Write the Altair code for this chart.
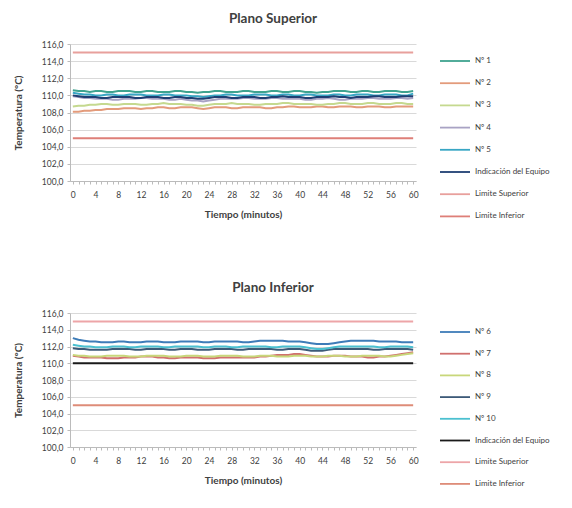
import altair as alt
import pandas as pd

MINUTES = list(range(61))
Y_TICKS = [100, 102, 104, 106, 108, 110, 112, 114, 116]

# ---------------- Plano Superior ----------------
TOP_NAMES = ["Nº 1", "Nº 2", "Nº 3", "Nº 4", "Nº 5", "Indicación del Equipo",
             "Limite Superior", "Limite Inferior"]
TOP_COLORS = ["#3FA38F", "#E39B7B", "#C5D98F", "#A9A3C4", "#38A6C4", "#1F3F73",
              "#E8A09C", "#DE7F78"]

T1 = [110.6, 110.5, 110.5, 110.4, 110.5, 110.5, 110.4, 110.4, 110.5, 110.5,
      110.5, 110.4, 110.4, 110.5, 110.5, 110.4, 110.4, 110.4, 110.5, 110.5,
      110.4, 110.4, 110.3, 110.4, 110.4, 110.5, 110.5, 110.4, 110.4, 110.4,
      110.5, 110.5, 110.4, 110.4, 110.4, 110.5, 110.5, 110.4, 110.4, 110.5,
      110.5, 110.4, 110.4, 110.3, 110.4, 110.4, 110.5, 110.5, 110.5, 110.4,
      110.4, 110.5, 110.5, 110.4, 110.4, 110.5, 110.5, 110.5, 110.4, 110.4,
      110.5]
T2 = [108.1, 108.1, 108.2, 108.2, 108.3, 108.3, 108.4, 108.4, 108.4, 108.5,
      108.5, 108.5, 108.4, 108.5, 108.5, 108.6, 108.6, 108.5, 108.5, 108.6,
      108.6, 108.6, 108.5, 108.4, 108.5, 108.6, 108.6, 108.6, 108.5, 108.5,
      108.6, 108.6, 108.6, 108.6, 108.5, 108.5, 108.6, 108.6, 108.7, 108.7,
      108.6, 108.6, 108.6, 108.7, 108.7, 108.6, 108.6, 108.7, 108.7, 108.7,
      108.6, 108.6, 108.7, 108.7, 108.7, 108.6, 108.6, 108.7, 108.7, 108.7,
      108.7]
T3 = [108.7, 108.8, 108.8, 108.9, 108.9, 109.0, 109.0, 108.9, 108.9, 109.0,
      109.0, 109.0, 108.9, 108.9, 109.0, 109.0, 109.1, 109.0, 109.0, 109.0,
      108.9, 108.9, 108.8, 108.8, 108.9, 109.0, 109.0, 109.0, 109.1, 109.0,
      109.0, 109.0, 108.9, 108.9, 109.0, 109.0, 109.0, 109.1, 109.1, 109.0,
      109.0, 109.0, 109.0, 108.9, 108.9, 109.0, 109.0, 109.1, 109.1, 109.0,
      109.0, 109.0, 109.1, 109.1, 109.0, 109.0, 109.0, 109.1, 109.1, 109.0,
      109.0]
T4 = [109.9, 109.8, 109.7, 109.7, 109.6, 109.6, 109.6, 109.5, 109.5, 109.6,
      109.6, 109.6, 109.7, 109.7, 109.6, 109.6, 109.6, 109.5, 109.5, 109.6,
      109.5, 109.4, 109.4, 109.3, 109.4, 109.5, 109.6, 109.6, 109.6, 109.6,
      109.7, 109.7, 109.6, 109.6, 109.6, 109.7, 109.7, 109.6, 109.6, 109.6,
      109.6, 109.5, 109.5, 109.6, 109.6, 109.7, 109.6, 109.5, 109.5, 109.6,
      109.6, 109.6, 109.7, 109.7, 109.6, 109.6, 109.6, 109.7, 109.7, 109.6,
      109.7]
T5 = [110.3, 110.2, 110.1, 110.1, 110.0, 110.0, 110.1, 110.1, 110.0, 110.0,
      110.1, 110.1, 110.1, 110.0, 110.0, 110.0, 110.1, 110.1, 110.0, 110.0,
      110.0, 109.9, 109.9, 109.8, 109.9, 110.0, 110.0, 110.1, 110.1, 110.0,
      110.0, 110.0, 110.1, 110.1, 110.1, 110.0, 110.0, 110.1, 110.1, 110.0,
      110.0, 110.1, 110.1, 110.0, 110.0, 110.0, 110.1, 110.1, 110.0, 110.0,
      110.1, 110.1, 110.1, 110.0, 110.0, 110.1, 110.1, 110.1, 110.0, 110.0,
      110.2]
T_IND = [110.0, 109.9, 109.8, 109.8, 109.8, 109.7, 109.7, 109.8, 109.8, 109.8,
         109.8, 109.7, 109.7, 109.8, 109.8, 109.8, 109.7, 109.7, 109.8, 109.8,
         109.7, 109.7, 109.6, 109.6, 109.7, 109.8, 109.8, 109.8, 109.7, 109.7,
         109.8, 109.8, 109.8, 109.7, 109.7, 109.8, 109.8, 109.9, 109.8, 109.8,
         109.8, 109.7, 109.7, 109.8, 109.8, 109.8, 109.9, 109.8, 109.8, 109.7,
         109.8, 109.8, 109.8, 109.9, 109.9, 109.8, 109.8, 109.8, 109.9, 109.9,
         109.9]

# ---------------- Plano Inferior ----------------
BOT_NAMES = ["Nº 6", "Nº 7", "Nº 8", "Nº 9", "Nº 10", "Indicación del Equipo",
             "Limite Superior", "Limite Inferior"]
BOT_COLORS = ["#3E7CB8", "#D0706E", "#C8D77A", "#3D5A78", "#4BC0D0", "#1A1A1A",
              "#EDA5A8", "#DE8C78"]

B6 = [113.0, 112.8, 112.7, 112.6, 112.6, 112.5, 112.5, 112.5, 112.6, 112.6,
      112.5, 112.5, 112.5, 112.6, 112.6, 112.6, 112.5, 112.5, 112.5, 112.6,
      112.6, 112.6, 112.6, 112.5, 112.5, 112.6, 112.6, 112.6, 112.6, 112.6,
      112.5, 112.5, 112.6, 112.7, 112.7, 112.7, 112.7, 112.7, 112.6, 112.6,
      112.6, 112.5, 112.4, 112.3, 112.3, 112.3, 112.4, 112.5, 112.6, 112.7,
      112.7, 112.7, 112.7, 112.7, 112.6, 112.6, 112.6, 112.6, 112.5, 112.5,
      112.5]
B7 = [110.9, 110.8, 110.7, 110.7, 110.7, 110.7, 110.6, 110.6, 110.6, 110.7,
      110.7, 110.7, 110.8, 110.8, 110.8, 110.7, 110.7, 110.6, 110.6, 110.7,
      110.7, 110.7, 110.7, 110.6, 110.6, 110.6, 110.7, 110.7, 110.7, 110.7,
      110.7, 110.7, 110.7, 110.8, 110.8, 110.9, 111.0, 111.0, 111.0, 111.1,
      111.1, 111.0, 110.9, 110.8, 110.8, 110.8, 110.9, 110.9, 110.9, 110.8,
      110.8, 110.8, 110.7, 110.7, 110.8, 110.8, 110.9, 111.0, 111.1, 111.2,
      111.3]
B8 = [111.0, 110.9, 110.9, 110.8, 110.8, 110.8, 110.9, 110.9, 110.9, 110.9,
      110.8, 110.8, 110.8, 110.9, 110.9, 110.9, 110.9, 110.8, 110.8, 110.8,
      110.9, 110.9, 110.9, 110.8, 110.8, 110.8, 110.9, 110.9, 110.9, 110.9,
      110.8, 110.8, 110.8, 110.9, 110.9, 110.9, 110.8, 110.8, 110.8, 110.9,
      110.9, 110.9, 110.8, 110.8, 110.8, 110.9, 110.9, 110.9, 110.8, 110.8,
      110.8, 110.9, 110.9, 110.9, 110.9, 110.8, 110.8, 110.9, 111.0, 111.1,
      111.2]
B9 = [111.8, 111.7, 111.7, 111.6, 111.6, 111.6, 111.6, 111.7, 111.7, 111.7,
      111.7, 111.6, 111.6, 111.7, 111.7, 111.7, 111.7, 111.6, 111.6, 111.7,
      111.7, 111.7, 111.6, 111.6, 111.6, 111.7, 111.7, 111.7, 111.7, 111.6,
      111.6, 111.7, 111.7, 111.7, 111.7, 111.7, 111.6, 111.6, 111.7, 111.7,
      111.7, 111.6, 111.5, 111.5, 111.5, 111.6, 111.7, 111.7, 111.7, 111.7,
      111.7, 111.7, 111.7, 111.6, 111.6, 111.7, 111.7, 111.7, 111.7, 111.7,
      111.6]
B10 = [112.2, 112.1, 112.0, 112.0, 111.9, 111.9, 111.9, 112.0, 112.0, 112.0,
       111.9, 111.9, 112.0, 112.0, 112.0, 112.0, 111.9, 111.9, 112.0, 112.0,
       112.0, 112.0, 112.0, 111.9, 111.9, 112.0, 112.0, 112.0, 111.9, 111.9,
       112.0, 112.0, 112.0, 112.0, 112.0, 111.9, 111.9, 112.0, 112.0, 112.0,
       112.0, 111.9, 111.8, 111.7, 111.7, 111.8, 111.9, 112.0, 112.0, 112.0,
       112.0, 112.0, 112.0, 112.0, 111.9, 111.9, 112.0, 112.0, 112.0, 112.0,
       111.9]
B_IND = [110.0, 110.0, 110.0, 110.0, 110.0, 110.0, 110.0, 110.0, 110.0, 110.0,
         110.0, 110.0, 110.0, 110.0, 110.0, 110.0, 110.0, 110.0, 110.0, 110.0,
         110.0, 110.0, 110.0, 110.0, 110.0, 110.0, 110.0, 110.0, 110.0, 110.0,
         110.0, 110.0, 110.0, 110.0, 110.0, 110.0, 110.0, 110.0, 110.0, 110.0,
         110.0, 110.0, 110.0, 110.0, 110.0, 110.0, 110.0, 110.0, 110.0, 110.0,
         110.0, 110.0, 110.0, 110.0, 110.0, 110.0, 110.0, 110.0, 110.0, 110.0,
         110.0]

LIMIT_X = [0, 60]
LIM_SUP = [115.0, 115.0]
LIM_INF = [105.0, 105.0]

FONT = "Lato"


def build_df(names, series):
    rows = []
    for k, (name, vals) in enumerate(zip(names, series)):
        xs = LIMIT_X if len(vals) == 2 else MINUTES
        for x, v in zip(xs, vals):
            rows.append({"minuto": x, "temp": v, "serie": name, "k": k})
    return pd.DataFrame(rows)


def panel(title, names, colors, series, height, legend_y, row_pad):
    df = build_df(names, series)
    return alt.Chart(df).mark_line(strokeWidth=2).encode(
        x=alt.X("minuto:Q",
                scale=alt.Scale(domain=[-0.5, 60.5], nice=False, zero=False),
                axis=alt.Axis(values=MINUTES,
                              labelExpr="datum.value % 4 == 0 ? '' + datum.value : ''",
                              labelOverlap=False, grid=False, tickSize=3,
                              tickColor="#bbbbbb", domainColor="#bbbbbb",
                              labelFontSize=8.5, labelColor="#404040",
                              labelPadding=6,
                              title="Tiempo (minutos)", titleFontSize=10,
                              titleFontWeight="bold", titleColor="#404040",
                              titlePadding=11)),
        y=alt.Y("temp:Q",
                scale=alt.Scale(domain=[100, 116], nice=False, zero=False),
                axis=alt.Axis(values=Y_TICKS,
                              labelExpr="replace(format(datum.value, '.1f'), '.', ',')",
                              grid=True, gridColor="#d9d9d9", tickSize=3,
                              tickColor="#bbbbbb", domainColor="#bbbbbb",
                              labelFontSize=8.5, labelColor="#404040",
                              labelPadding=4,
                              title="Temperatura (°C)", titleFontSize=10,
                              titleFontWeight="bold", titleColor="#404040",
                              titlePadding=18)),
        color=alt.Color("serie:N",
                        scale=alt.Scale(domain=names, range=colors),
                        legend=alt.Legend(title=None, orient="none",
                                          legendX=369, legendY=legend_y,
                                          symbolType="stroke",
                                          symbolSize=900, symbolStrokeWidth=1.8,
                                          rowPadding=row_pad, labelOffset=4,
                                          labelFontSize=8, labelColor="#404040",
                                          labelLimit=200)),
        order=alt.Order("minuto:Q"),
        detail="serie:N",
    ).properties(
        width=346, height=height,
        title=alt.TitleParams(title, fontSize=13.5, fontWeight="bold",
                              color="#404040", anchor="middle", dx=30, offset=15),
    )


top = panel("Plano Superior", TOP_NAMES, TOP_COLORS,
            [T1, T2, T3, T4, T5, T_IND, LIM_SUP, LIM_INF], 137, 1, 2.2)
bottom = panel("Plano Inferior", BOT_NAMES, BOT_COLORS,
               [B6, B7, B8, B9, B10, B_IND, LIM_SUP, LIM_INF], 134, 3, 1.7)

chart = alt.vconcat(top, bottom, spacing=59).resolve_scale(
    color="independent"
).properties(
    padding={"left": 5, "top": 3, "right": 0, "bottom": 0}
).configure(font=FONT).configure_view(strokeWidth=0)

chart.save("out.html", embed_options={"renderer": "svg", "actions": False})
